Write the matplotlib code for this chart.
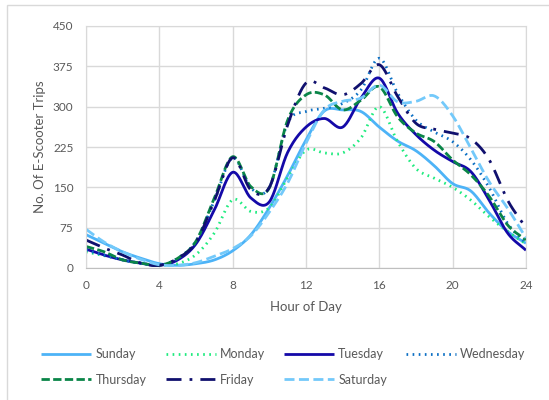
import numpy as np
import matplotlib
matplotlib.use("Agg")
import matplotlib.pyplot as plt
from matplotlib.patches import Rectangle

plt.rcParams['font.family'] = ['Lato', 'DejaVu Sans']

hours = list(range(25))
days = ['Sunday', 'Monday', 'Tuesday', 'Wednesday', 'Thursday', 'Friday', 'Saturday']

sunday = [62, 46, 30, 18, 8, 5, 8, 15, 32, 62, 112, 172, 238, 292, 294, 291,
          262, 236, 218, 190, 157, 143, 102, 68, 46]
monday = [30, 23, 15, 8, 5, 8, 25, 65, 127, 105, 112, 168, 219, 214, 214, 242,
          300, 235, 185, 167, 150, 126, 95, 68, 45]
tuesday = [35, 24, 15, 9, 5, 15, 45, 108, 178, 130, 123, 215, 262, 278, 262, 316,
           353, 288, 248, 219, 198, 179, 126, 65, 33]
wednesday = [33, 24, 15, 9, 5, 18, 50, 125, 205, 148, 150, 270, 291, 297, 306, 331,
             390, 325, 275, 253, 235, 201, 149, 83, 46]
thursday = [40, 30, 15, 9, 5, 18, 50, 130, 207, 151, 149, 275, 322, 322, 294, 312,
            337, 281, 251, 235, 201, 173, 133, 80, 52]
friday = [52, 37, 24, 9, 5, 18, 48, 125, 205, 145, 150, 266, 344, 335, 322, 343,
          378, 319, 269, 258, 251, 240, 201, 126, 75]
saturday = [72, 48, 30, 16, 6, 5, 10, 22, 36, 60, 104, 158, 232, 294, 310, 316,
            340, 309, 310, 320, 283, 222, 160, 111, 56]

series = [sunday, monday, tuesday, wednesday, thursday, friday, saturday]
colors = ['#4DB3F7', '#1EEB7E', '#1409A8', '#0B6FC4', '#0A8548', '#10106E', '#73C9FA']
styles = ['-', (0, (0.6, 1.6)), '-', (0, (0.6, 1.6)), (0, (3.0, 1.2)),
          (0, (5.4, 2.9, 1.0, 2.9)), (0, (3.6, 1.6))]


def smooth(x, y, n=20):
    # excel style smoothed line (catmull-rom through the points)
    x = np.asarray(x, float)
    y = np.asarray(y, float)
    px = np.concatenate([[2 * x[0] - x[1]], x, [2 * x[-1] - x[-2]]])
    py = np.concatenate([[2 * y[0] - y[1]], y, [2 * y[-1] - y[-2]]])
    xs, ys = [], []
    t = np.linspace(0, 1, n, endpoint=False)
    for i in range(1, len(px) - 2):
        for p, out in ((px, xs), (py, ys)):
            p0, p1, p2, p3 = p[i - 1], p[i], p[i + 1], p[i + 2]
            out.extend(0.5 * ((2 * p1) + (-p0 + p2) * t
                              + (2 * p0 - 5 * p1 + 4 * p2 - p3) * t ** 2
                              + (-p0 + 3 * p1 - 3 * p2 + p3) * t ** 3))
    xs.append(x[-1])
    ys.append(y[-1])
    return np.array(xs), np.array(ys)


fig = plt.figure(figsize=(5.49, 4.0), dpi=100)
ax = fig.add_axes([0.1567, 0.33, 0.8013, 0.605])

lines = {}
for name, vals, c, ls in zip(days, series, colors, styles):
    sx, sy = smooth(hours, vals)
    lines[name], = ax.plot(sx, sy, color=c, linestyle=ls, linewidth=2.0, label=name,
                           solid_capstyle='butt', dash_capstyle='butt')

ax.set_xlim(0, 24)
ax.set_ylim(0, 450)
ax.set_xticks(range(0, 25, 4))
ax.set_yticks(range(0, 451, 75))
ax.grid(True, color='#D9D9D9', linewidth=1.0)
ax.set_axisbelow(True)
for s in ax.spines.values():
    s.set_color('#D9D9D9')
ax.spines['bottom'].set_color('#BFBFBF')
ax.tick_params(length=0, labelsize=8.5, colors='#595959')
ax.tick_params(axis='x', pad=8.5)
ax.tick_params(axis='y', pad=9)
ax.set_xlabel('Hour of Day', fontsize=9.5, color='#595959', labelpad=7)
ax.set_ylabel('No. Of E-Scooter Trips', fontsize=9.5, color='#595959', labelpad=5)

# legend fills row by row like excel
order = ['Sunday', 'Thursday', 'Monday', 'Friday', 'Tuesday', 'Saturday', 'Wednesday']
fig.legend([lines[d] for d in order], order, loc='center',
           bbox_to_anchor=(0.5165, 0.0825), ncol=4, frameon=False,
           fontsize=9, handlelength=4.0, columnspacing=1.5, handletextpad=0.35,
           labelcolor='#595959', borderaxespad=0, labelspacing=1.05)

fig.patches.append(Rectangle((7 / 549, -0.1), 1.2, 1.1 - 5 / 400,
                             transform=fig.transFigure, fill=False,
                             edgecolor='#D9D9D9', linewidth=1.0))

fig.savefig('out.png', dpi=100)
